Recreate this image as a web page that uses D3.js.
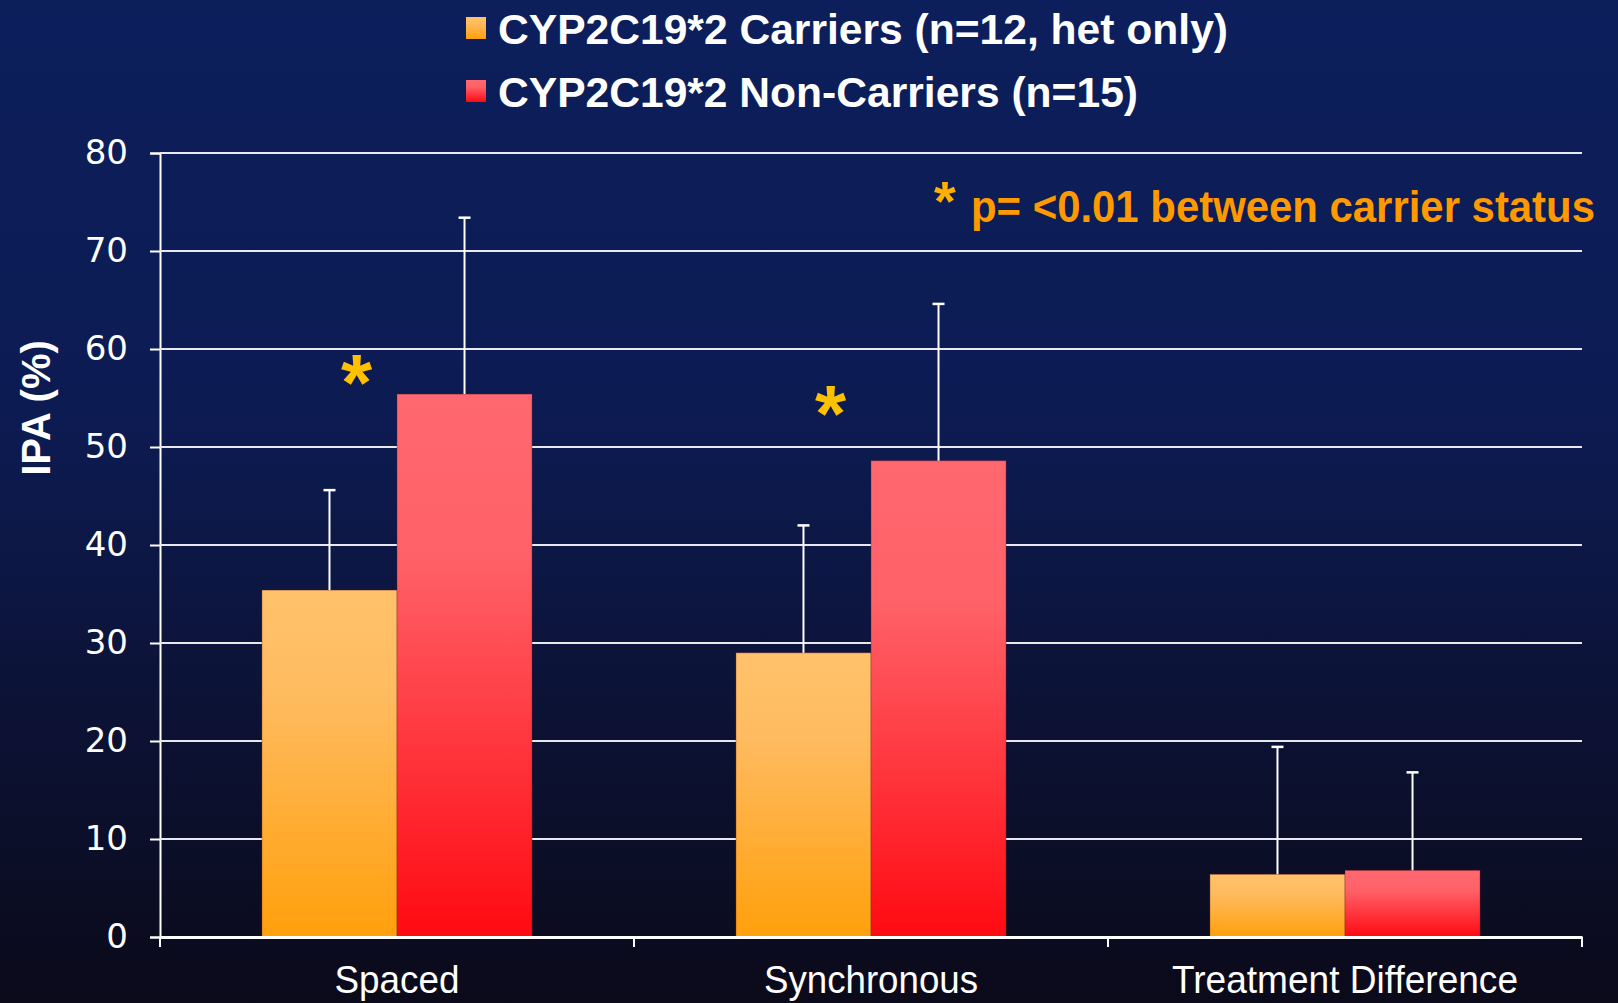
<!DOCTYPE html>
<html>
<head>
<meta charset="utf-8">
<script src="https://cdn.jsdelivr.net/npm/d3@7"></script>
<style>
  html, body { margin: 0; padding: 0; background: #0b0a1a; }
  svg { display: block; }
</style>
</head>
<body>
<div id="chart"></div>
<script>
const categories = ["Spaced", "Synchronous", "Treatment Difference"];
const seriesNames = ["CYP2C19*2 Carriers (n=12, het only)", "CYP2C19*2 Non-Carriers (n=15)"];
const carrierValues = [35.4, 29.0, 6.4];
const carrierErrors = [10.2, 13.0, 13.0];
const nonCarrierValues = [55.4, 48.6, 6.8];
const nonCarrierErrors = [18.0, 16.0, 10.0];
const yTicks = [0, 10, 20, 30, 40, 50, 60, 70, 80];
const starCategories = ["Spaced", "Synchronous"];
const starValues = [58.5, 55.3];
const yTitle = "IPA (%)";
const noteText = "p= <0.01 between carrier status";

const W = 1618, H = 1003;
const narrow = "'Liberation Sans Narrow', 'Arial Narrow', 'Liberation Sans', Arial, sans-serif";
const wide = "'Liberation Sans', Arial, sans-serif";
// rendered widths of the condensed labels
const labelWidths = [125, 214, 346];

var svg = d3.select("#chart").append("svg")
    .attr("width", W)
    .attr("height", H);

const defs = svg.append("defs");

const bg = defs.append("linearGradient").attr("id", "bg")
    .attr("x1", 0).attr("y1", 0).attr("x2", 0).attr("y2", 1);
[["0", "#0c1f5c"], ["0.42", "#0c1b52"], ["0.72", "#0c1234"], ["1", "#0b0a1a"]]
    .forEach(s => bg.append("stop").attr("offset", s[0]).attr("stop-color", s[1]));

function barGradient(id, stops) {
    const g = defs.append("linearGradient").attr("id", id)
        .attr("x1", 0).attr("y1", 0).attr("x2", 0).attr("y2", 1);
    stops.forEach(s => g.append("stop").attr("offset", s[0]).attr("stop-color", s[1]));
}
barGradient("gCarrier", [["0", "#ffc26a"], ["0.3", "#ffbb60"], ["1", "#ffa00c"]]);
barGradient("gNon", [["0", "#ff6870"], ["0.3", "#ff6168"], ["1", "#ff0a12"]]);

svg.append("rect").attr("width", W).attr("height", H).attr("fill", "url(#bg)");

const series = [
    {name: seriesNames[0], values: carrierValues, errors: carrierErrors, fill: "url(#gCarrier)"},
    {name: seriesNames[1], values: nonCarrierValues, errors: nonCarrierErrors, fill: "url(#gNon)"}
];

// scales
const x = d3.scaleBand()
    .domain(categories)
    .range([160, 1582])
    .paddingInner(0)
    .paddingOuter(0);

const xSub = d3.scaleBand()
    .domain(seriesNames)
    .range([0, x.bandwidth()])
    .paddingInner(0)
    .paddingOuter(0.755);

const y = d3.scaleLinear()
    .domain([0, 80])
    .range([937, 153]);

// gridlines + y axis
const yAxis = svg.append("g")
    .attr("transform", "translate(160,0)")
    .call(d3.axisLeft(y).tickValues(yTicks).tickSize(10).tickPadding(22));
yAxis.select(".domain").attr("stroke", "#ffffff").attr("stroke-width", 2);
yAxis.selectAll(".tick line").attr("stroke", "#ffffff").attr("stroke-width", 2);
yAxis.selectAll(".tick text")
    .attr("fill", "#ffffff")
    .style("font-family", "'DejaVu Sans', Verdana, sans-serif")
    .style("font-size", "34px");

svg.append("g")
    .selectAll("line")
    .data(yTicks.filter(d => d > 0))
    .enter()
    .append("line")
        .attr("x1", 160)
        .attr("x2", 1582)
        .attr("y1", d => y(d))
        .attr("y2", d => y(d))
        .attr("stroke", "#e8e8ee")
        .attr("stroke-width", 2);

// bars
series.forEach(s => {
    svg.append("g")
        .selectAll("rect")
        .data(categories)
        .enter()
        .append("rect")
            .attr("x", (c) => x(c) + xSub(s.name))
            .attr("y", (c, i) => y(s.values[i]))
            .attr("width", xSub.bandwidth())
            .attr("height", (c, i) => y(0) - y(s.values[i]))
            .attr("fill", s.fill)
            .attr("stroke", "rgba(120,20,30,0.35)")
            .attr("stroke-width", 1);
});

// error bars (upper only)
series.forEach(s => {
    const g = svg.append("g");
    categories.forEach((c, i) => {
        const cx = x(c) + xSub(s.name) + xSub.bandwidth() / 2;
        const top = y(s.values[i] + s.errors[i]);
        g.append("line")
            .attr("x1", cx).attr("x2", cx)
            .attr("y1", y(s.values[i])).attr("y2", top)
            .attr("stroke", "#ffffff").attr("stroke-width", 2);
        g.append("line")
            .attr("x1", cx - 6).attr("x2", cx + 6)
            .attr("y1", top).attr("y2", top)
            .attr("stroke", "#ffffff").attr("stroke-width", 2.5);
    });
});

// x axis
const xAxis = svg.append("g")
    .attr("transform", "translate(0," + y(0) + ")")
    .call(d3.axisBottom(x).tickSize(0).tickPadding(30));
xAxis.select(".domain").attr("stroke", "#ffffff").attr("stroke-width", 3);
xAxis.selectAll(".tick text")
    .attr("fill", "#ffffff")
    .attr("dy", "0")
    .attr("y", 56)
    .attr("textLength", (d, i) => labelWidths[i])
    .attr("lengthAdjust", "spacingAndGlyphs")
    .style("font-family", narrow)
    .style("font-size", "39px");

const boundaries = categories.map(c => x(c)).concat([x.range()[1]]);
xAxis.selectAll(".bound")
    .data(boundaries)
    .enter()
    .append("line")
        .attr("x1", d => d).attr("x2", d => d)
        .attr("y1", 0).attr("y2", 10)
        .attr("stroke", "#ffffff").attr("stroke-width", 2);

// significance stars
svg.append("g")
    .selectAll("text")
    .data(starCategories)
    .enter()
    .append("text")
        .attr("x", (c) => x(c) + xSub(seriesNames[0]) + xSub.bandwidth() * 0.7)
        .attr("y", (c, i) => y(starValues[i]) + 46)
        .attr("text-anchor", "middle")
        .attr("fill", "#ffc000")
        .style("font-family", wide)
        .style("font-weight", "bold")
        .style("font-size", "80px")
        .text("*");

// y title
svg.append("text")
    .attr("transform", "translate(50,408) rotate(-90)")
    .attr("text-anchor", "middle")
    .attr("fill", "#ffffff")
    .style("font-family", wide)
    .style("font-weight", "bold")
    .style("font-size", "40px")
    .text(yTitle);

// note
svg.append("text")
    .attr("x", 945)
    .attr("y", 220)
    .attr("text-anchor", "middle")
    .attr("fill", "#ffb000")
    .style("font-family", wide)
    .style("font-weight", "bold")
    .style("font-size", "56px")
    .text("*");
const noteG = svg.append("g");
const note = noteG.append("text")
    .attr("x", 0)
    .attr("y", 0)
    .attr("fill", "#ff9900")
    .style("font-family", narrow)
    .style("font-weight", "bold")
    .style("font-size", "45px")
    .text(noteText);
// squeeze to the condensed width of the original
const noteScale = 624 / note.node().getComputedTextLength();
noteG.attr("transform", "translate(971,222) scale(" + noteScale + ",1)");

// legend
const legendFills = ["url(#gCarrier)", "url(#gNon)"];
const legendWidths = [730, 640];
const legend = svg.append("g");
seriesNames.forEach((name, i) => {
    const ly = 17 + i * 63;
    legend.append("rect")
        .attr("x", 466).attr("y", ly)
        .attr("width", 20).attr("height", 22)
        .attr("fill", legendFills[i]);
    legend.append("text")
        .attr("x", 498).attr("y", ly + 27)
        .attr("fill", "#ffffff")
        .attr("textLength", legendWidths[i])
        .attr("lengthAdjust", "spacingAndGlyphs")
        .style("font-family", narrow)
        .style("font-weight", "bold")
        .style("font-size", "43px")
        .text(name);
});
</script>
</body>
</html>
